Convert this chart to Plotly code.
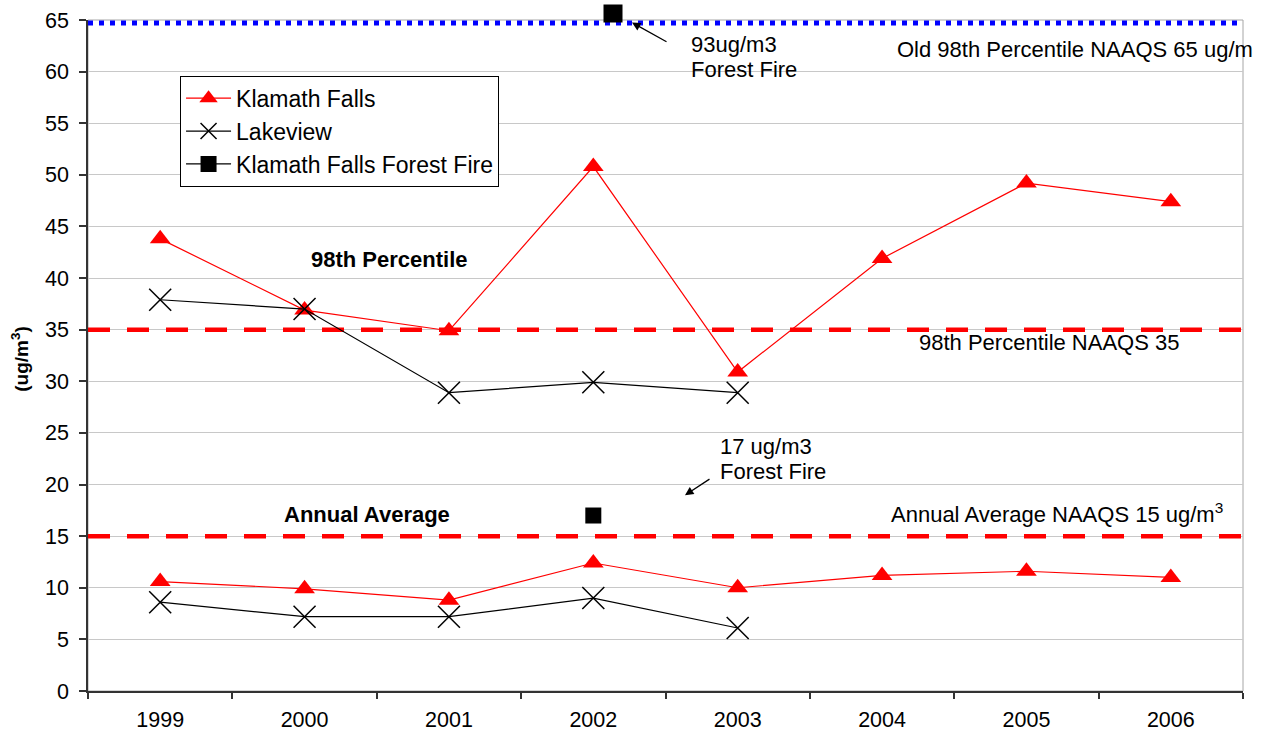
import plotly.graph_objects as go

# Years on the x axis
YEARS = [1999, 2000, 2001, 2002, 2003, 2004, 2005, 2006]

# 98th percentile PM2.5 (ug/m3)
KLAMATH_98TH = [43.8, 36.9, 34.9, 50.8, 30.9, 41.9, 49.2, 47.4]
LAKEVIEW_98TH = [37.9, 37.0, 28.9, 29.9, 28.9, None, None, None]

# Annual average PM2.5 (ug/m3)
KLAMATH_ANNUAL = [10.6, 9.9, 8.8, 12.4, 10.0, 11.2, 11.6, 11.0]
LAKEVIEW_ANNUAL = [8.6, 7.2, 7.2, 9.0, 6.1, None, None, None]

# Forest fire readings, Klamath Falls 2002
FIRE_YEAR = 2002
FIRE_ANNUAL = 17
FIRE_98TH = 93  # off the scale

# Standards (ug/m3)
OLD_98TH_NAAQS = 65
NEW_98TH_NAAQS = 35
ANNUAL_NAAQS = 15

Y_MAX = 65
Y_TICKS = list(range(0, 70, 5))
X_RANGE = [YEARS[0] - 0.5, YEARS[-1] + 0.5]

FONT = "Liberation Sans, Arial, sans-serif"
RED = "#ff0000"

fig = go.Figure()

# Klamath Falls: 98th percentile and annual average segments
tri = dict(symbol="triangle-up", size=18, color=RED)
fig.add_trace(go.Scatter(
    x=YEARS, y=KLAMATH_98TH, mode="lines+markers", name="Klamath Falls",
    legendgroup="kf", line=dict(color=RED, width=1.2), marker=tri))
fig.add_trace(go.Scatter(
    x=YEARS, y=KLAMATH_ANNUAL, mode="lines+markers", name="Klamath Falls",
    legendgroup="kf", showlegend=False, line=dict(color=RED, width=1.2),
    marker=tri))

# Lakeview
cross = dict(symbol="x-thin", size=22, color="black",
             line=dict(color="black", width=1.5))
fig.add_trace(go.Scatter(
    x=YEARS, y=LAKEVIEW_98TH, mode="lines+markers", name="Lakeview",
    legendgroup="lv", line=dict(color="black", width=1.2), marker=cross))
fig.add_trace(go.Scatter(
    x=YEARS, y=LAKEVIEW_ANNUAL, mode="lines+markers", name="Lakeview",
    legendgroup="lv", showlegend=False, line=dict(color="black", width=1.2),
    marker=cross))

# Forest fire annual point
fig.add_trace(go.Scatter(
    x=[FIRE_YEAR], y=[FIRE_ANNUAL], mode="lines+markers",
    name="Klamath Falls Forest Fire", legendgroup="ff",
    line=dict(color="black", width=1.2),
    marker=dict(symbol="square", size=16, color="black")))

# Standard lines (drawn above the gridlines, below the data)
fig.add_shape(type="line", xref="x", x0=X_RANGE[0], x1=X_RANGE[1], yref="y",
              yanchor=OLD_98TH_NAAQS, ysizemode="pixel", y0=-3, y1=-3,
              line=dict(color="#0000ff", width=5, dash="5px,6px"), layer="between")
fig.add_shape(type="line", xref="x", x0=X_RANGE[0], x1=X_RANGE[1], yref="y",
              y0=NEW_98TH_NAAQS, y1=NEW_98TH_NAAQS,
              line=dict(color=RED, width=4.5, dash="22px,17px"), layer="between")
fig.add_shape(type="line", xref="x", x0=X_RANGE[0], x1=X_RANGE[1], yref="y",
              y0=ANNUAL_NAAQS, y1=ANNUAL_NAAQS,
              line=dict(color=RED, width=4.5, dash="22px,17px"), layer="between")

# Plot area frame (top and right edges)
fig.add_shape(type="rect", xref="paper", yref="paper", x0=0, x1=1, y0=0, y1=1,
              line=dict(color="#a6a6a6", width=1), layer="below")

TXT = dict(family=FONT, size=22, color="black")
BOLD = dict(family=FONT, size=22, color="black")


def label(x, y, text, font=TXT, xanchor="left"):
    return dict(x=x, y=y, text=text, xanchor=xanchor, yanchor="middle",
                showarrow=False, font=font)


annotations = [
    # the 93 ug/m3 fire reading sits above the scale: a black box pinned over the top edge
    dict(x=FIRE_YEAR, y=min(FIRE_98TH, Y_MAX), text=" ", showarrow=False,
         xshift=20, yshift=7, width=16, height=15, bgcolor="black",
         font=dict(size=6)),
    label(2002.663, 62.58, "93ug/m3"),
    label(2002.663, 60.25, "Forest Fire"),
    dict(x=2002.268, y=64.75, ax=36, ay=20, text="", showarrow=True,
         arrowhead=2, arrowsize=1.3, arrowwidth=1.3, arrowcolor="black"),
    label(2004.09, 62.1, "Old 98th Percentile NAAQS 65 ug/m"),
    label(2004.242, 33.8, "98th Percentile NAAQS 35"),
    label(2002.864, 23.64, "17 ug/m3"),
    label(2002.864, 21.31, "Forest Fire"),
    dict(x=2002.635, y=18.97, ax=26, ay=-17, text="", showarrow=True,
         arrowhead=2, arrowsize=1.3, arrowwidth=1.3, arrowcolor="black"),
    label(2004.048, 17.2, "Annual Average NAAQS 15 ug/m<sup>3</sup>"),
    label(2000.585, 41.8, "<b>98th Percentile</b>", BOLD, "center"),
    label(2000.432, 17.1, "<b>Annual Average</b>", BOLD, "center"),
    dict(x=-0.059, y=0.495, xref="paper", yref="paper",
         text="<b>(ug/m<sup>3</sup>)</b>", textangle=-90, showarrow=False,
         xanchor="center", yanchor="middle",
         font=dict(family=FONT, size=19, color="black")),
]

fig.update_layout(
    width=1267, height=734,
    margin=dict(l=88, r=24, t=20, b=43, autoexpand=False),
    paper_bgcolor="white", plot_bgcolor="white",
    font=dict(family=FONT, color="black"),
    annotations=annotations,
    legend=dict(x=0.0797, y=0.917, xanchor="left", yanchor="top",
                bgcolor="white", bordercolor="black", borderwidth=1,
                font=dict(family=FONT, size=23, color="black"),
                tracegroupgap=0, itemwidth=45),
    xaxis=dict(range=X_RANGE, tickmode="array", tickvals=YEARS,
               ticktext=[str(y) for y in YEARS], ticks="", showgrid=False,
               zeroline=False, showline=True, linecolor="#333333", linewidth=1.5,
               tickfont=dict(family=FONT, size=21.5, color="black"),
               ticklabelstandoff=8, automargin=False,
               minor=dict(tickmode="array",
                          tickvals=[y - 0.5 for y in YEARS] + [YEARS[-1] + 0.5],
                          ticks="outside", ticklen=6, tickcolor="#333333",
                          tickwidth=1.5, showgrid=False)),
    yaxis=dict(range=[0, Y_MAX], tickmode="array", tickvals=Y_TICKS,
               ticks="outside", ticklen=7, tickcolor="#333333", tickwidth=1.5,
               showgrid=True, gridcolor="#c8c8c8", gridwidth=1, automargin=False,
               zeroline=False, showline=True, linecolor="#333333", linewidth=1.5,
               ticklabelstandoff=6,
               tickfont=dict(family=FONT, size=21.5, color="black")),
)

fig.write_html("out.html")
